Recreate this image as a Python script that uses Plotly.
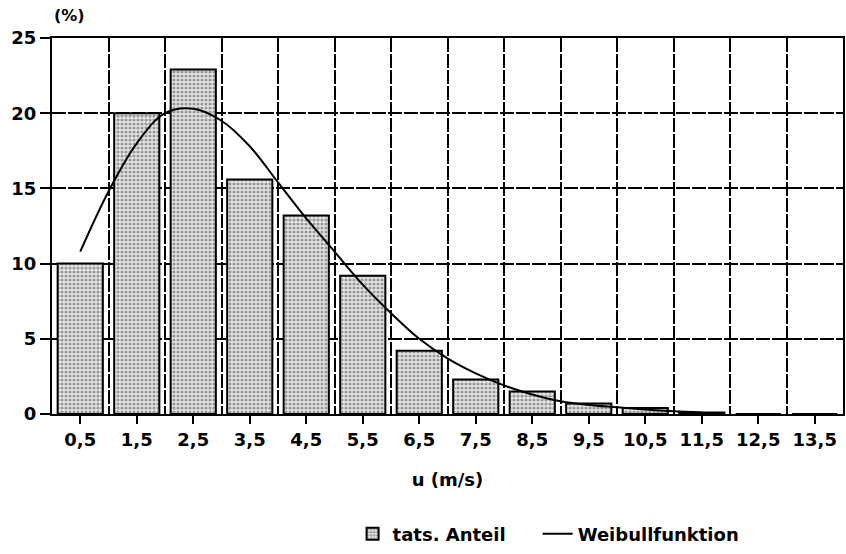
import plotly.graph_objects as go

# wind speed classes (bin centres, m/s) and tick labels
speed_bins = [0.5, 1.5, 2.5, 3.5, 4.5, 5.5, 6.5, 7.5, 8.5, 9.5, 10.5, 11.5, 12.5, 13.5]
bin_labels = ["0,5", "1,5", "2,5", "3,5", "4,5", "5,5", "6,5",
              "7,5", "8,5", "9,5", "10,5", "11,5", "12,5", "13,5"]

# observed share per class (%)
observed_share = [10.0, 20.0, 22.9, 15.6, 13.2, 9.2, 4.2, 2.3, 1.5, 0.7, 0.4, 0.1, 0.0, 0.0]

# fitted Weibull distribution (%)
weibull_u = [0.5, 1.0, 1.5, 2.0, 2.5, 3.0, 3.5, 4.0, 4.5, 5.0, 5.5, 6.0,
             6.5, 7.0, 7.5, 8.0, 8.5, 9.0, 9.5, 10.0, 10.5, 11.0, 11.5]
weibull_pct = [10.8, 14.8, 18.0, 20.0, 20.3, 19.5, 17.8, 15.4, 13.0, 10.8, 8.6, 6.7,
               5.0, 3.7, 2.7, 1.9, 1.3, 0.85, 0.6, 0.45, 0.3, 0.18, 0.1]

FONT = "DejaVu Sans"
GRID_DASH = "14px,2px"
TEXT_FONT = dict(family=FONT, size=18, color="black", weight="bold")

fig = go.Figure()

fig.add_trace(go.Bar(
    x=speed_bins,
    y=observed_share,
    width=0.8,
    name="tats. Anteil",
    legend="legend",
    marker=dict(
        color="white",
        line=dict(color="black", width=2),
        pattern=dict(shape=".", fgcolor="#4a4a4a", bgcolor="#e6e6e6",
                     size=4, solidity=0.5),
    ),
))

fig.add_trace(go.Scatter(
    x=weibull_u,
    y=weibull_pct,
    mode="lines",
    name="Weibullfunktion",
    legend="legend2",
    line=dict(color="black", width=2, shape="spline", smoothing=1.0),
))

fig.update_layout(
    width=846,
    height=554,
    margin=dict(l=52, r=1, t=38, b=135),
    paper_bgcolor="white",
    plot_bgcolor="white",
    font=TEXT_FONT,
    bargap=0.2,
    showlegend=True,
    legend=dict(
        orientation="h",
        x=0.38, xanchor="left",
        y=-0.27, yanchor="top",
        font=TEXT_FONT,
        itemwidth=30,
    ),
    legend2=dict(
        orientation="h",
        x=0.614, xanchor="left",
        y=-0.27, yanchor="top",
        font=TEXT_FONT,
        itemwidth=30,
    ),
    xaxis=dict(
        range=[0, 14],
        tickmode="array",
        tickvals=speed_bins,
        ticktext=bin_labels,
        ticks="outside",
        ticklen=8,
        tickwidth=2,
        tickcolor="black",
        showline=True,
        linecolor="black",
        linewidth=2,
        mirror=True,
        showgrid=False,
        zeroline=False,
        minor=dict(
            tick0=0, dtick=1,
            showgrid=True, gridcolor="black", gridwidth=1.5,
            griddash=GRID_DASH,
            ticks="",
        ),
        title=dict(text="u (m/s)", standoff=25, font=TEXT_FONT),
    ),
    yaxis=dict(
        range=[0, 25],
        tick0=0,
        dtick=5,
        ticks="outside",
        ticklen=10,
        tickwidth=2,
        tickcolor="black",
        showline=True,
        linecolor="black",
        linewidth=2,
        mirror=True,
        showgrid=True,
        gridcolor="black",
        gridwidth=1.5,
        griddash=GRID_DASH,
        zeroline=False,
    ),
    annotations=[dict(
        text="(%)", xref="paper", yref="paper", x=0.0, y=1.06,
        xanchor="left", yanchor="middle", showarrow=False,
        font=dict(family=FONT, size=16, color="black", weight="bold"),
    )],
)

fig.write_html("out.html")
